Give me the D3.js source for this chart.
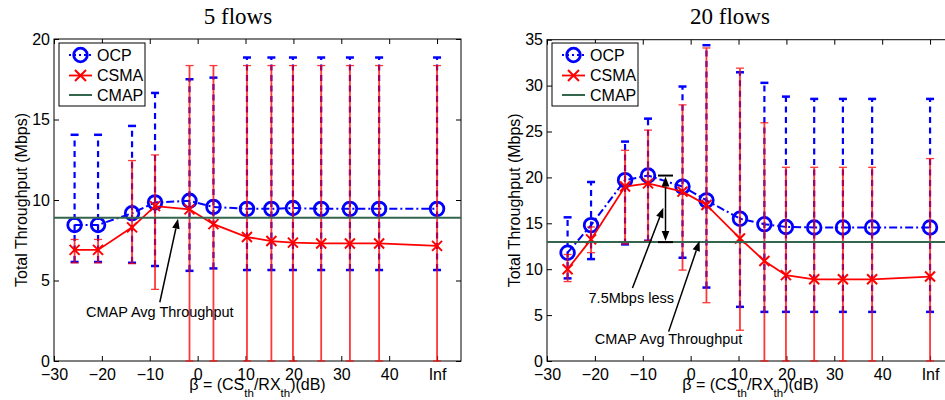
<!DOCTYPE html>
<html>
<head>
<meta charset="utf-8">
<script src="https://cdn.jsdelivr.net/npm/d3@7"></script>
<style>
  html, body { margin: 0; padding: 0; background: #fff; overflow: hidden; }
  svg { display: block; }
</style>
</head>
<body>
<svg id="chart" width="945" height="400"></svg>
<script>
// β = CS_th / RX_th in dB; the "Inf" setting is placed at 50 on the axis
const beta = [-25.7, -20.8, -13.7, -8.9, -1.7, 3.3, 10.3, 15.4, 19.9, 25.8, 31.8, 37.9, 50];
const xTickValues = [-30, -20, -10, 0, 10, 20, 30, 40, 50];
const xTickLabels = ["\u221230", "\u221220", "\u221210", "0", "10", "20", "30", "40", "Inf"];

// 5 flows — mean throughput (Mbps) with upper / lower error bounds
const ocp5    = [8.45, 8.45, 9.18, 9.85, 9.95, 9.57, 9.45, 9.45, 9.5, 9.45, 9.45, 9.45, 9.45];
const ocp5Hi  = [14.05, 14.05, 14.6, 16.65, 17.5, 17.6, 18.85, 18.85, 18.85, 18.85, 18.85, 18.85, 18.85];
const ocp5Lo  = [6.15, 6.15, 6.1, 5.9, 5.6, 5.75, 5.65, 5.65, 5.65, 5.65, 5.65, 5.65, 5.65];
const csma5   = [6.9, 6.9, 8.3, 9.62, 9.42, 8.5, 7.7, 7.45, 7.35, 7.3, 7.3, 7.3, 7.15];
const csma5Hi = [7.55, 7.55, 12.45, 12.8, 18.35, 18.35, 18.35, 18.35, 18.35, 18.35, 18.35, 18.35, 18.35];
const csma5Lo = [6.1, 6.1, 6.05, 4.45, 0, 0, 0, 0, 0, 0, 0, 0, 0];
const cmap5   = 8.9;
const yTicks5 = [0, 5, 10, 15, 20];

// 20 flows
const ocp20    = [11.8, 14.8, 19.7, 20.2, 19.0, 17.5, 15.5, 14.9, 14.6, 14.55, 14.55, 14.55, 14.55];
const ocp20Hi  = [15.65, 19.5, 23.9, 26.4, 29.9, 34.4, 31.45, 30.3, 28.8, 28.55, 28.55, 28.55, 28.55];
const ocp20Lo  = [9.0, 11.1, 12.7, 13.1, 11.25, 8.0, 5.9, 5.35, 5.35, 5.35, 5.35, 5.35, 5.35];
const csma20   = [10.0, 13.25, 19.0, 19.35, 18.45, 17.0, 13.35, 10.9, 9.35, 8.9, 8.9, 8.9, 9.2];
const csma20Hi = [11.6, 14.6, 22.95, 25.15, 27.9, 34.1, 31.9, 25.95, 21.1, 21.1, 21.1, 21.1, 22.05];
const csma20Lo = [8.65, 11.8, 12.75, 13.1, 9.9, 6.35, 3.35, 0, 0, 0, 0, 0, 0];
const cmap20   = 12.95;
const yTicks20 = [0, 5, 10, 15, 20, 25, 30, 35];

const seriesNames = ["OCP", "CSMA", "CMAP"];

const BLUE = "#0000ff", RED = "#ff0000", GREEN = "#33664d";
const SANS = "'Liberation Sans', Arial, Helvetica, sans-serif";
const SERIF = "'Liberation Serif', 'Times New Roman', serif";

const svg = d3.select("#chart");

function arrow(g, x1, y1, x2, y2) {
  // straight arrow with a filled head whose tip sits at (x2, y2)
  const len = 10, half = 3.8;
  const a = Math.atan2(y2 - y1, x2 - x1);
  const bx = x2 - len * Math.cos(a), by = y2 - len * Math.sin(a);
  g.append("line").attr("x1", x1).attr("y1", y1).attr("x2", bx).attr("y2", by)
    .attr("stroke", "#000").attr("stroke-width", 1.5);
  const px = -Math.sin(a) * half, py = Math.cos(a) * half;
  g.append("path")
    .attr("d", `M${x2},${y2}L${bx + px},${by + py}L${bx - px},${by - py}Z`)
    .attr("fill", "#000");
}

function drawPanel(cfg) {
  const g = svg.append("g");
  const x = d3.scaleLinear().domain([-30, 55]).range([cfg.left, cfg.left + 407]);
  const y = d3.scaleLinear().domain([0, cfg.yMax]).range([361, cfg.top]);
  const n = beta.length;
  const idx = d3.range(n);
  const [xl, xr] = x.range();
  const [yb, yt] = y.range();

  // title
  g.append("text").attr("x", cfg.titleX).attr("y", 24)
    .attr("text-anchor", "middle").attr("font-family", SERIF).attr("font-size", 23)
    .text(cfg.title);

  // axes: ticks point inward on all four sides
  const bottomAxis = d3.axisBottom(x).tickValues(xTickValues)
    .tickFormat((d, i) => xTickLabels[i]).tickSize(-5).tickPadding(7.6);
  const topAxis = d3.axisTop(x).tickValues(xTickValues).tickFormat("").tickSize(-5);
  const leftAxis = d3.axisLeft(y).tickValues(cfg.yTicks).tickFormat(d3.format("d"))
    .tickSize(-5).tickPadding(4);
  const rightAxis = d3.axisRight(y).tickValues(cfg.yTicks).tickFormat("").tickSize(-5);

  const axes = [
    [bottomAxis, `translate(0,${yb})`],
    [topAxis, `translate(0,${yt})`],
    [leftAxis, `translate(${xl},0)`],
    [rightAxis, `translate(${xr},0)`]
  ];
  axes.forEach(([ax, tr]) => {
    const ag = g.append("g").attr("transform", tr).call(ax);
    ag.select(".domain").remove();
    ag.attr("font-family", SANS).attr("font-size", 16);
    ag.selectAll("line").attr("stroke", "#000").attr("stroke-width", 1);
    ag.selectAll("text").attr("fill", "#000");
  });

  // axes box
  g.append("rect").attr("x", xl).attr("y", yt).attr("width", xr - xl).attr("height", yb - yt)
    .attr("fill", "none").attr("stroke", "#000").attr("stroke-width", 1);

  // axis labels
  const xlab = g.append("text").attr("x", (xl + xr) / 2).attr("y", 390)
    .attr("text-anchor", "middle").attr("font-family", SANS).attr("font-size", 16);
  xlab.append("tspan").text("\u03b2 = (CS");
  xlab.append("tspan").attr("dy", 7).attr("font-size", 11.5).text("th");
  xlab.append("tspan").attr("dy", -7).text("/RX");
  xlab.append("tspan").attr("dy", 7).attr("font-size", 11.5).text("th");
  xlab.append("tspan").attr("dy", -7).text(")(dB)");

  g.append("text")
    .attr("transform", `translate(${cfg.ylabelX},${(yt + yb) / 2}) rotate(-90)`)
    .attr("text-anchor", "middle").attr("font-family", SANS).attr("font-size", 16)
    .text("Total Throughput (Mbps)");

  // OCP: dashed error bars, dash-dot mean line, circle markers
  const eb = g.append("g");
  eb.selectAll(".ocp-bar").data(idx).join("line")
    .attr("x1", i => x(beta[i])).attr("x2", i => x(beta[i]))
    .attr("y1", i => y(cfg.ocpLo[i])).attr("y2", i => y(cfg.ocpHi[i]))
    .attr("stroke", BLUE).attr("stroke-width", 2.2).attr("stroke-dasharray", "6,4.5");
  ["ocpHi", "ocpLo"].forEach(k => {
    eb.selectAll(".cap-" + k).data(idx).join("line")
      .attr("x1", i => x(beta[i]) - 4).attr("x2", i => x(beta[i]) + 4)
      .attr("y1", i => y(cfg[k][i])).attr("y2", i => y(cfg[k][i]))
      .attr("stroke", BLUE).attr("stroke-width", 2.5);
  });

  const line = d3.line().x(i => x(beta[i]));
  g.append("path").datum(idx)
    .attr("d", line.y(i => y(cfg.ocp[i])))
    .attr("fill", "none").attr("stroke", BLUE).attr("stroke-width", 2)
    .attr("stroke-dasharray", "8,3,2,3");
  g.selectAll(".ocp-pt").data(idx).join("circle")
    .attr("cx", i => x(beta[i])).attr("cy", i => y(cfg.ocp[i])).attr("r", 6.8)
    .attr("fill", "none").attr("stroke", BLUE).attr("stroke-width", 2.8);

  // CSMA: solid error bars, solid mean line, x markers
  const rb = g.append("g").attr("opacity", 0.78);
  rb.selectAll(".csma-bar").data(idx).join("line")
    .attr("x1", i => x(beta[i])).attr("x2", i => x(beta[i]))
    .attr("y1", i => y(cfg.csmaLo[i])).attr("y2", i => y(cfg.csmaHi[i]))
    .attr("stroke", RED).attr("stroke-width", 1.8);
  ["csmaHi", "csmaLo"].forEach(k => {
    rb.selectAll(".cap-" + k).data(idx).join("line")
      .attr("x1", i => x(beta[i]) - 4).attr("x2", i => x(beta[i]) + 4)
      .attr("y1", i => y(cfg[k][i])).attr("y2", i => y(cfg[k][i]))
      .attr("stroke", RED).attr("stroke-width", 1.3);
  });
  g.append("path").datum(idx)
    .attr("d", d3.line().x(i => x(beta[i])).y(i => y(cfg.csma[i])))
    .attr("fill", "none").attr("stroke", RED).attr("stroke-width", 1.8);
  const s = 5;
  g.selectAll(".csma-pt").data(idx).join("path")
    .attr("d", i => {
      const cx = x(beta[i]), cy = y(cfg.csma[i]);
      return `M${cx - s},${cy - s}L${cx + s},${cy + s}M${cx - s},${cy + s}L${cx + s},${cy - s}`;
    })
    .attr("stroke", RED).attr("stroke-width", 2).attr("fill", "none");

  // CMAP average
  g.append("line").attr("x1", xl).attr("x2", xr)
    .attr("y1", y(cfg.cmap)).attr("y2", y(cfg.cmap))
    .attr("stroke", GREEN).attr("stroke-width", 2);

  // legend
  const L = xl + 5;
  const lg = g.append("g");
  lg.append("rect").attr("x", L).attr("y", 43).attr("width", 86).attr("height", 63)
    .attr("fill", "#fff").attr("stroke", "#000").attr("stroke-width", 1);
  const rows = [55, 75.5, 95];
  const lx1 = L + 10, lx2 = L + 33, lm = (lx1 + lx2) / 2;
  lg.append("line").attr("x1", lx1).attr("x2", lx2).attr("y1", rows[0]).attr("y2", rows[0])
    .attr("stroke", BLUE).attr("stroke-width", 2).attr("stroke-dasharray", "2,3");
  lg.append("circle").attr("cx", lm).attr("cy", rows[0]).attr("r", 6.8)
    .attr("fill", "none").attr("stroke", BLUE).attr("stroke-width", 2.8);
  lg.append("line").attr("x1", lx1).attr("x2", lx2).attr("y1", rows[1]).attr("y2", rows[1])
    .attr("stroke", RED).attr("stroke-width", 1.8);
  lg.append("path")
    .attr("d", `M${lm - 5.5},${rows[1] - 5.5}L${lm + 5.5},${rows[1] + 5.5}M${lm - 5.5},${rows[1] + 5.5}L${lm + 5.5},${rows[1] - 5.5}`)
    .attr("stroke", RED).attr("stroke-width", 2);
  lg.append("line").attr("x1", lx1).attr("x2", lx2).attr("y1", rows[2]).attr("y2", rows[2])
    .attr("stroke", GREEN).attr("stroke-width", 2);
  seriesNames.forEach((name, k) => {
    lg.append("text").attr("x", L + 38).attr("y", rows[k]).attr("dy", "0.36em")
      .attr("font-family", SANS).attr("font-size", 16).text(name);
  });

  return { g, x, y };
}

// left panel
const p5 = drawPanel({
  left: 54, top: 39, yMax: 20, yTicks: yTicks5, title: "5 flows", titleX: 238, ylabelX: 27,
  ocp: ocp5, ocpHi: ocp5Hi, ocpLo: ocp5Lo, csma: csma5, csmaHi: csma5Hi, csmaLo: csma5Lo, cmap: cmap5
});
{
  const { g, x, y } = p5;
  g.append("text").attr("x", x(-7.9)).attr("y", y(2.75)).attr("text-anchor", "middle")
    .attr("font-family", SANS).attr("font-size", 14.5).text("CMAP Avg Throughput");
  arrow(g, x(-7.9), y(3.65), x(-4.1), y(cmap5) + 1);
}

// right panel
const p20 = drawPanel({
  left: 547, top: 39.7, yMax: 35, yTicks: yTicks20, title: "20 flows", titleX: 730, ylabelX: 520,
  ocp: ocp20, ocpHi: ocp20Hi, ocpLo: ocp20Lo, csma: csma20, csmaHi: csma20Hi, csmaLo: csma20Lo, cmap: cmap20
});
{
  const { g, x, y } = p20;
  // gap between the OCP peak and the CMAP average
  const bx = x(-5.25), yTop = y(d3.max(ocp20)), yBot = y(cmap20);
  [yTop, yBot].forEach(yy => g.append("line").attr("x1", bx - 7.5).attr("x2", bx + 7.5)
    .attr("y1", yy).attr("y2", yy).attr("stroke", "#000").attr("stroke-width", 2));
  const midY = (yTop + yBot) / 2;
  arrow(g, bx, midY, bx, yTop + 1);
  arrow(g, bx, midY, bx, yBot - 1);

  g.append("text").attr("x", x(-12.4)).attr("y", y(6.3)).attr("text-anchor", "middle")
    .attr("font-family", SANS).attr("font-size", 14.5).text("7.5Mbps less");
  arrow(g, x(-12.15), y(7.95), x(-5.7), y(16.7));

  g.append("text").attr("x", x(-4.6)).attr("y", y(1.85)).attr("text-anchor", "middle")
    .attr("font-family", SANS).attr("font-size", 14.5).text("CMAP Avg Throughput");
  arrow(g, x(-4.6), y(3.2), x(1.85), y(cmap20) - 1);
}
</script>
</body>
</html>
